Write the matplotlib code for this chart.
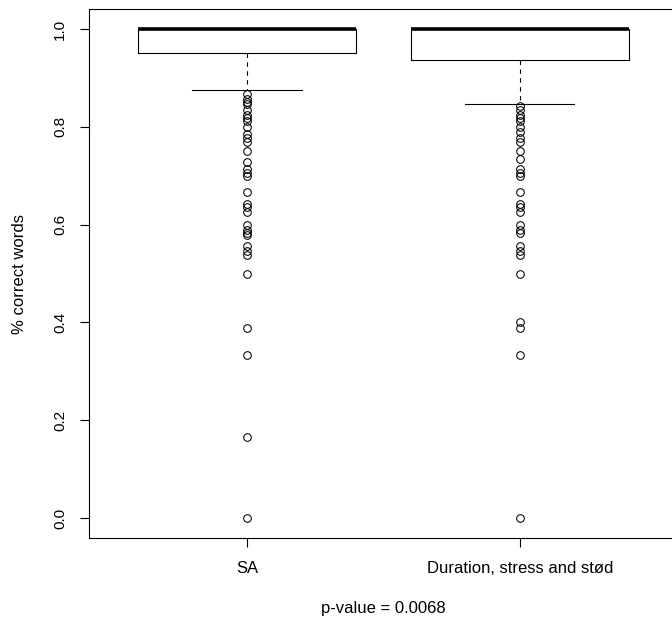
import matplotlib
matplotlib.use("Agg")
import matplotlib.pyplot as plt

plt.rcParams["font.family"] = ["Liberation Sans", "DejaVu Sans"]

groups = ["SA", "Duration, stress and stød"]
q1 = [0.95, 0.9375]
med = [1.0, 1.0]
q3 = [1.0, 1.0]
whislo = [0.875, 0.8462]
whishi = [1.0, 1.0]

fliers_sa = [0.8667, 0.8571, 0.85, 0.8462, 0.8333, 0.8235, 0.8182, 0.8125,
             0.8, 0.7857, 0.7778, 0.7692, 0.75, 0.7273, 0.7143, 0.7059, 0.7,
             0.6667, 0.6429, 0.6364, 0.625, 0.6, 0.5882, 0.5833, 0.5789,
             0.5556, 0.5455, 0.5385, 0.5, 0.3889, 0.3333, 0.1667, 0.0]
fliers_dss = [0.8421, 0.8333, 0.8235, 0.8182, 0.8125, 0.8, 0.7895, 0.7778,
              0.7692, 0.75, 0.7333, 0.7143, 0.7059, 0.7, 0.6667, 0.6429,
              0.6364, 0.625, 0.6, 0.5882, 0.5833, 0.5556, 0.5455, 0.5385,
              0.5, 0.4, 0.3889, 0.3333, 0.0]
fliers = [fliers_sa, fliers_dss]

stats = [
    {"label": g, "q1": a, "med": m, "q3": b, "whislo": lo, "whishi": hi, "fliers": f}
    for g, a, m, b, lo, hi, f in zip(groups, q1, med, q3, whislo, whishi, fliers)
]

fig = plt.figure(figsize=(6.72, 6.19), dpi=100)
ax = fig.add_axes([0.132, 0.1315, 0.877, 0.8533])

ax.bxp(
    stats, positions=[1, 2], widths=0.8, capwidths=0.4,
    boxprops=dict(color="black", linewidth=0.8),
    medianprops=dict(color="black", linewidth=2.6, solid_capstyle="butt"),
    whiskerprops=dict(color="black", linewidth=0.8, linestyle=(0, (4, 4))),
    capprops=dict(color="black", linewidth=0.8),
    flierprops=dict(marker="o", markerfacecolor="none", markeredgecolor="black",
                    markersize=5.5, markeredgewidth=0.75, linestyle="none"),
)

ax.set_xlim(0.42, 2.58)
ax.set_ylim(-0.04, 1.04)
ax.set_yticks([0.0, 0.2, 0.4, 0.6, 0.8, 1.0])
ax.set_yticklabels(["0.0", "0.2", "0.4", "0.6", "0.8", "1.0"], rotation=90, va="center")
ax.set_xticks([1, 2])
ax.set_xticklabels(groups)
ax.tick_params(axis="both", direction="out", length=6.5, width=0.8)
ax.tick_params(axis="y", labelsize=11, pad=9)
ax.tick_params(axis="x", labelsize=12, pad=10)
for s in ax.spines.values():
    s.set_linewidth(0.8)

ax.set_ylabel("% correct words", fontsize=12, labelpad=19)
ax.set_xlabel("p-value = 0.0068", fontsize=12, labelpad=18)

fig.savefig("out.png", dpi=100)
